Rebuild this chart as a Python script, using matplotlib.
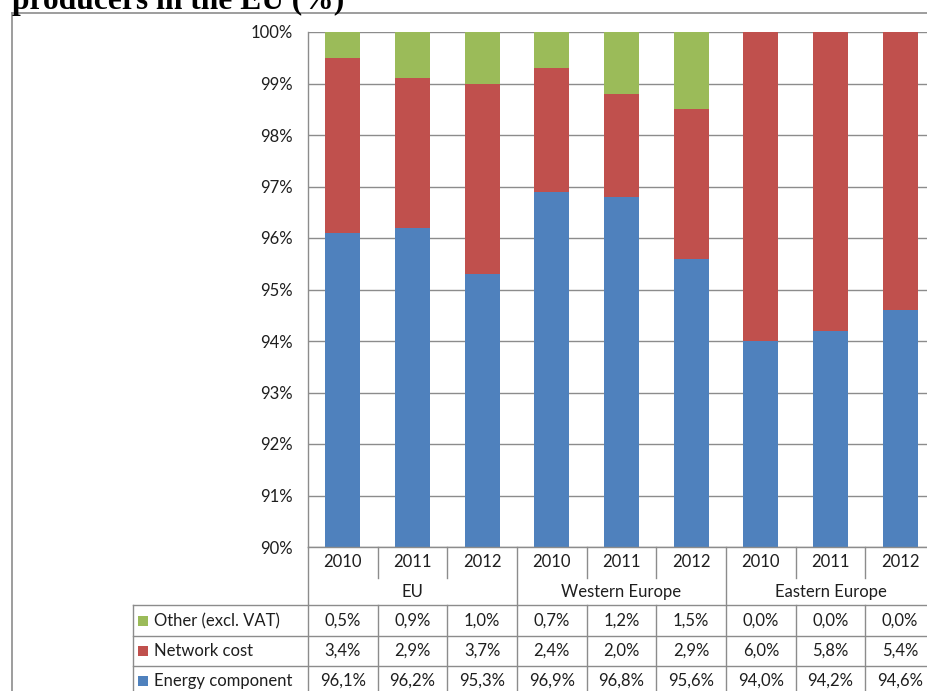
import matplotlib
matplotlib.use('Agg')

import matplotlib.pyplot as plt
import matplotlib.transforms as mtransforms
from matplotlib.lines import Line2D
from matplotlib.patches import Rectangle
from matplotlib.ticker import FixedLocator, FuncFormatter

plt.rcParams['font.family'] = ['Lato', 'DejaVu Sans']
plt.rcParams['font.size'] = 12.

# data
years = ["2010", "2011", "2012"] * 3
groups = ["EU", "Western Europe", "Eastern Europe"]
energy = [96.1, 96.2, 95.3, 96.9, 96.8, 95.6, 94.0, 94.2, 94.6]
network = [3.4, 2.9, 3.7, 2.4, 2.0, 2.9, 6.0, 5.8, 5.4]
other = [0.5, 0.9, 1.0, 0.7, 1.2, 1.5, 0.0, 0.0, 0.0]
series_names = ["Other (excl. VAT)", "Network cost", "Energy component"]
yticks = [90, 91, 92, 93, 94, 95, 96, 97, 98, 99, 100]

c_blue = "#4F81BD"
c_red = "#C0504D"
c_green = "#9BBB59"
c_line = "#8C8C8C"
c_text = "#1E1E1E"
fs = 12

W, H = 928, 691
fig = plt.figure(figsize=(W / 100, H / 100), dpi=100)


def fy(py):
    return 1 - py / H


def fx(px):
    return px / W


# plot area in pixels: x 308..935, y 32..547
ax = fig.add_axes([fx(308), fy(547), (935 - 308) / W, (547 - 32) / H])
x = list(range(len(energy)))
bottom2 = [e + n for e, n in zip(energy, network)]
ax.bar(x, energy, width=0.5, color=c_blue, edgecolor='none', zorder=3)
ax.bar(x, network, bottom=energy, width=0.5, color=c_red, edgecolor='none', zorder=3)
ax.bar(x, other, bottom=bottom2, width=0.5, color=c_green, edgecolor='none', zorder=3)

ax.set_xlim(-0.5, len(energy) - 0.5)
ax.set_ylim(90, 100)
ax.yaxis.set_major_locator(FixedLocator(yticks))
ax.yaxis.set_major_formatter(FuncFormatter(lambda v, p: "%d%%" % v))
ax.set_xticks([])
ax.tick_params(axis='y', length=0, pad=11, labelsize=fs, colors=c_text)
ax.grid(axis='y', color=c_line, linewidth=1.0, zorder=0)
for s in ['top', 'right', 'bottom']:
    ax.spines[s].set_visible(False)
ax.spines['left'].set_color(c_line)
ax.spines['left'].set_linewidth(1.0)

# data table below the axis
tr = mtransforms.blended_transform_factory(ax.transData, fig.transFigure)
col_w = (935 - 308) / len(energy)
x_leg = -0.5 - (308 - 133) / col_w
x_right = len(energy) - 0.5
lw = 1.0


def hline(x0, x1, py):
    fig.add_artist(Line2D([x0, x1], [fy(py), fy(py)], transform=tr, color=c_line, lw=lw, clip_on=False))


def vline(xv, py0, py1):
    fig.add_artist(Line2D([xv, xv], [fy(py0), fy(py1)], transform=tr, color=c_line, lw=lw, clip_on=False))


hline(-0.5, x_right, 547)
for py in [605, 636, 666]:
    hline(x_leg, x_right, py)
vline(x_leg, 605, 700)
for k in range(len(energy) + 1):
    if k % 3 == 0:
        vline(k - 0.5, 547, 700)
    else:
        vline(k - 0.5, 547, 578)
        vline(k - 0.5, 605, 700)

for i, yr in enumerate(years):
    fig.text(i, fy(562), yr, transform=tr, ha='center', va='center', fontsize=fs, color=c_text)
for g, name in enumerate(groups):
    fig.text(3 * g + 1, fy(592), name, transform=tr, ha='center', va='center', fontsize=fs, color=c_text)


def fmt(v):
    return ("%.1f%%" % v).replace('.', ',')


rows = [other, network, energy]
colors = [c_green, c_red, c_blue]
row_y = [621, 651, 681]
for vals, name, col, py in zip(rows, series_names, colors, row_y):
    fig.add_artist(Rectangle((fx(138), fy(py + 5)), 10 / W, 10 / H, transform=fig.transFigure,
                             facecolor=col, edgecolor='none'))
    fig.text(fx(154), fy(py), name, ha='left', va='center', fontsize=fs, color=c_text)
    for i, v in enumerate(vals):
        fig.text(i, fy(py), fmt(v), transform=tr, ha='center', va='center', fontsize=fs, color=c_text)

# outer frame of the chart area
fig.add_artist(Line2D([fx(12), fx(12)], [fy(13), 0], transform=fig.transFigure, color=c_line, lw=1.2))
fig.add_artist(Line2D([fx(12), 1], [fy(13), fy(13)], transform=fig.transFigure, color=c_line, lw=1.2))

# title (cut off at the top in the original)
fig.text(fx(12), fy(9), "producers in the EU (%)", ha='left', va='baseline',
         fontsize=22.7, fontweight='bold', family=['Liberation Serif', 'DejaVu Serif'])

plt.savefig("out.png", dpi=100)
